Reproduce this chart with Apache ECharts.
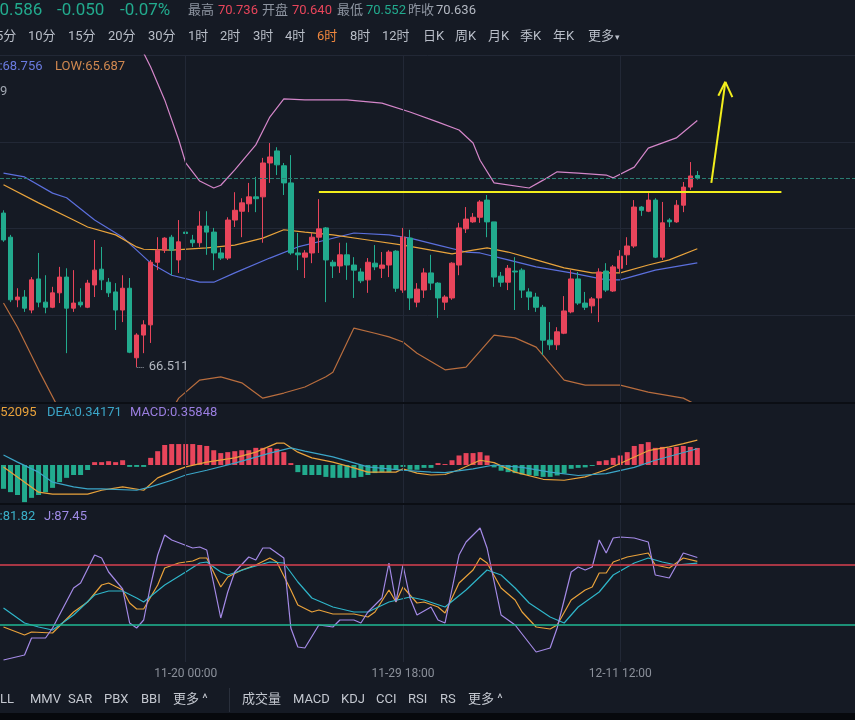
<!DOCTYPE html>
<html>
<head>
<meta charset="utf-8">
<script src="https://cdn.jsdelivr.net/npm/echarts@6/dist/echarts.min.js"></script>
<style>
html,body{margin:0;padding:0;background:#151a24;}
#main{width:855px;height:720px;}
</style>
</head>
<body>
<div id="main"></div>
<script>
// K线 [开, 收, 低, 高]
var candles = [
[69.83,69.25,69.21,69.89],[69.31,67.96,67.91,69.36],[67.96,68.02,67.80,68.21],[68.02,67.78,67.70,68.17],
[67.74,68.39,67.67,68.45],[68.41,67.91,67.80,68.97],[67.91,67.80,67.67,68.49],[67.80,68.11,67.78,68.24],
[68.11,68.45,67.89,68.67],[68.45,67.78,66.81,68.64],[67.78,67.89,67.70,68.60],[67.91,67.85,67.80,68.21],
[67.80,68.32,67.78,68.39],[68.28,68.60,68.02,69.25],[68.62,68.39,68.17,69.10],[68.34,68.11,68.02,68.43],
[68.13,67.74,67.31,68.32],[67.74,68.21,67.48,68.49],[68.21,66.83,66.81,68.43],[66.71,67.20,66.511,67.24],
[67.20,67.42,66.81,67.52],[67.42,68.77,67.03,68.82],[68.77,69.03,68.60,69.31],[69.03,69.29,68.97,69.31],
[69.31,69.03,68.49,69.36],[68.82,69.21,68.54,69.68],[69.42,69.39,68.64,69.57],[69.25,69.19,69.10,69.36],
[69.19,69.55,69.10,69.87],[69.55,69.42,68.93,69.87],[69.42,68.97,68.60,69.51],[68.97,68.86,68.82,69.08],
[68.86,69.68,68.82,69.74],[69.68,69.89,69.53,70.28],[69.87,70.05,69.31,70.15],[70.03,70.18,69.85,70.48],
[70.18,70.14,69.85,70.61],[70.18,70.91,69.19,71.02],[70.91,71.04,70.48,71.34],[71.17,70.87,70.65,71.25],
[70.85,70.48,70.22,70.91],[70.48,68.97,68.93,71.08],[68.97,68.93,68.60,69.40],[68.88,68.97,68.43,69.03],
[68.97,69.31,68.75,69.40],[69.31,69.49,68.97,70.13],[69.51,68.82,67.91,69.53],[68.77,68.69,68.43,68.82],
[68.69,68.93,68.54,69.19],[68.93,68.71,68.39,69.19],[68.71,68.60,68.00,68.88],[68.56,68.37,68.32,68.64],
[68.39,68.77,68.11,68.86],[68.75,68.67,68.60,69.14],[68.64,68.71,68.43,68.99],[68.71,68.99,68.45,69.03],
[69.01,68.21,68.13,69.03],[68.17,69.31,68.11,69.51],[69.29,68.00,67.74,69.47],[67.91,68.19,67.80,68.32],
[68.17,68.54,68.00,68.64],[68.54,68.32,68.17,68.93],[68.32,68.00,67.57,68.34],[67.91,68.02,67.74,68.06],
[68.00,68.75,67.96,68.77],[68.71,69.51,68.49,69.62],[69.49,69.70,69.40,69.96],[69.64,69.74,69.62,69.83],
[69.74,70.07,69.62,70.11],[70.11,69.64,69.31,70.22],[69.64,68.45,68.24,69.64],[68.47,68.34,68.24,68.56],
[68.34,68.64,68.17,68.71],[68.58,68.56,67.74,68.88],[68.60,68.17,68.00,68.64],[68.13,68.02,67.74,68.21],
[68.02,67.80,67.70,68.11],[67.80,67.09,66.77,67.85],[67.09,66.99,66.88,67.48],[66.99,67.27,66.88,67.37],
[67.24,67.72,67.22,68.04],[67.70,68.41,67.67,68.60],[68.41,67.89,67.85,68.56],[67.89,67.80,67.74,68.13],
[67.83,67.98,67.67,68.02],[68.00,68.56,67.48,68.64],[68.58,68.17,68.13,68.75],[68.15,68.67,68.13,68.71],
[68.64,68.90,68.56,69.03],[68.93,69.12,68.71,69.31],[69.12,69.96,69.08,70.11],[69.96,69.89,69.77,69.98],
[69.87,70.11,69.85,70.26],[70.11,68.88,68.86,70.15],[68.88,69.62,68.82,70.07],[69.68,69.64,69.53,69.72],
[69.64,70.00,69.62,70.11],[70.00,70.39,69.85,70.50],[70.39,70.63,70.33,70.93],[70.640,70.586,70.552,70.736]
];

// 布林线 / 均线  [序号, 值]
var bollUp = [[17,74.32],[19,73.67],[20,73.28],[21,72.98],[23,72.27],[25,71.41],[26,70.91],[28,70.52],[30,70.37],[31,70.43],[33,70.76],[36,71.30],[38,71.90],[40,72.29],[43,72.27],[49,72.27],[54,72.20],[58,72.01],[62,71.79],[65,71.62],[67,71.34],[68,70.97],[70,70.48],[75,70.37],[77,70.54],[79,70.72],[82,70.69],[86,70.65],[87,70.59],[90,70.82],[92,71.23],[96,71.45],[99,71.825]];
var bollMid = [[0,70.69],[3,70.61],[7,70.26],[9,70.16],[13,69.68],[17,69.31],[19,69.03],[21,68.75],[24,68.49],[28,68.34],[30,68.34],[33,68.54],[38,68.86],[42,69.10],[46,69.25],[50,69.40],[55,69.36],[58,69.29],[62,69.14],[66,68.99],[68,68.97],[72,68.82],[76,68.67],[81,68.54],[86,68.39],[88,68.39],[93,68.60],[99,68.756]];
var bollLow = [[0,67.89],[2,67.37],[5,66.45],[8,65.58],[12,64.9],[18,64.7],[22,65.2],[24,65.58],[25,65.84],[28,66.23],[31,66.30],[34,66.17],[37,65.84],[40,65.95],[43,66.08],[46,66.30],[47,66.40],[50,67.35],[53,67.24],[55,67.16],[57,67.05],[59,66.81],[63,66.45],[66,66.51],[70,67.20],[73,67.14],[76,66.94],[80,66.23],[83,66.12],[88,66.12],[92,65.97],[97,65.84],[99,65.687]];
var maLine = [[0,70.44],[5,70.05],[10,69.68],[12,69.53],[16,69.36],[19,69.10],[20,69.05],[24,69.03],[29,69.08],[33,69.14],[37,69.29],[40,69.47],[43,69.42],[47,69.36],[52,69.25],[57,69.14],[61,69.03],[64,68.95],[67,69.03],[69,69.08],[72,68.99],[76,68.82],[80,68.65],[84,68.54],[88,68.54],[92,68.71],[95,68.82],[99,69.06]];

// MACD
var macdHist = [-0.50,-0.57,-0.63,-0.78,-0.69,-0.63,-0.57,-0.48,-0.36,-0.27,-0.21,-0.21,-0.105,0.06,0.06,0.08,0.06,0.10,-0.04,-0.04,
-0.04,0.15,0.29,0.42,0.44,0.44,0.44,0.44,0.42,0.40,0.31,0.25,0.27,0.29,0.31,0.31,0.36,0.36,0.36,0.34,
0.27,0.04,-0.15,-0.21,-0.21,-0.21,-0.25,-0.27,-0.27,-0.27,-0.27,-0.25,-0.21,-0.17,-0.15,-0.15,-0.105,-0.04,-0.10,-0.10,
-0.06,-0.06,0.04,0.02,0.10,0.20,0.25,0.25,0.27,0.20,-0.05,-0.12,-0.15,-0.17,-0.20,-0.21,-0.23,-0.25,-0.25,-0.22,
-0.18,-0.08,-0.06,-0.05,-0.02,0.08,0.10,0.15,0.20,0.27,0.40,0.44,0.48,0.36,0.38,0.36,0.38,0.40,0.38,0.35848];
var dif = [[0,-0.04],[5,-0.57],[7,-0.61],[12,-0.61],[14,-0.53],[17,-0.46],[20,-0.53],[22,-0.27],[24,-0.15],[26,-0.04],[29,0.06],[33,0.15],[36,0.27],[39,0.46],[40,0.46],[42,0.27],[44,0.15],[47,0.06],[50,-0.06],[52,-0.15],[56,-0.15],[57,-0.08],[59,-0.17],[61,-0.21],[63,-0.2],[65,-0.1],[68,0.1],[70,0.05],[73,-0.15],[77,-0.3],[80,-0.32],[83,-0.25],[86,-0.1],[89,0.1],[92,0.3],[95,0.38],[97,0.45],[99,0.52095]];
var dea = [[0,0.21],[2,0.06],[5,-0.15],[7,-0.36],[10,-0.46],[12,-0.50],[14,-0.50],[19,-0.53],[21,-0.46],[24,-0.32],[26,-0.21],[29,-0.11],[33,0.04],[38,0.25],[41,0.36],[43,0.29],[47,0.17],[52,-0.04],[57,-0.11],[61,-0.15],[63,-0.16],[67,-0.08],[70,0.0],[74,-0.05],[78,-0.15],[82,-0.22],[86,-0.18],[90,-0.05],[93,0.1],[96,0.22],[99,0.34171]];

// KDJ
var kLine = [[0,18],[3,10],[4,13],[7,12],[10,33],[12,43],[14,60],[15,62],[17,55],[18,42],[19,36],[20,36],[22,60],[23,77],[25,82],[27,84],[28,87],[29,87],[31,58],[32,68],[34,75],[36,80],[38,87],[39,83],[41,55],[42,40],[44,33],[45,35],[47,31],[50,31],[52,28],[53,33],[55,55],[56,43],[57,58],[59,42],[60,43],[62,38],[63,32],[65,62],[67,75],[68,87],[69,82],[71,57],[73,45],[74,33],[76,18],[78,16],[79,20],[81,45],[83,55],[84,58],[85,72],[86,72],[87,83],[89,88],[92,92],[93,80],[95,77],[97,87],[99,83.7]];
var dLine = [[0,37],[3,22],[5,18],[7,15],[10,30],[13,50],[15,54],[17,54],[19,47],[20,43],[23,60],[26,73],[28,82],[29,83],[31,73],[32,70],[35,77],[38,83],[40,82],[42,63],[44,47],[47,38],[50,33],[52,33],[55,43],[58,48],[60,45],[63,38],[66,55],[69,75],[71,70],[73,57],[75,42],[78,28],[80,22],[82,38],[85,53],[87,70],[90,82],[92,87],[94,83],[96,80],[99,81.82]];
var jLine = [[0,-15],[3,-10],[4,7],[6,7],[7,17],[10,57],[11,62],[13,90],[14,87],[15,73],[17,56],[18,22],[19,17],[20,25],[21,60],[22,90],[23,110],[24,105],[27,97],[28,98],[29,95],[31,27],[32,53],[33,73],[35,88],[36,85],[37,97],[38,97],[40,87],[41,17],[42,-2],[43,-3],[45,20],[47,18],[48,25],[50,25],[51,22],[52,33],[54,47],[55,82],[56,43],[57,80],[58,47],[59,30],[61,38],[62,25],[63,22],[65,90],[66,103],[68,117],[69,97],[71,30],[73,20],[76,-7],[78,-3],[79,17],[81,73],[82,78],[83,75],[84,78],[85,105],[86,92],[87,107],[88,108],[90,107],[92,103],[93,70],[95,67],[97,92],[99,87.45]];

// 横轴
var slotCount = 122;
var categories = [];
for (var i = 0; i < slotCount; i++) categories.push(String(i));
var timeLabels = {26: '11-20 00:00', 57: '11-29 18:00', 88: '12-11 12:00'};
var gridIdx = [26, 57, 88];

var RED = '#e8455b', GREEN = '#22ab8e';
var FONT = 'Roboto, "Noto Sans CJK SC", sans-serif';

function txt(x, y, s, color, size, weight) {
    return {type: 'text', x: x, y: y, z: 100, silent: true,
        style: {text: s, fill: color, font: (weight || 'normal') + ' ' + size + 'px ' + FONT,
            textVerticalAlign: 'middle', verticalAlign: 'middle'}};
}
function vLines() {
    return gridIdx.map(function (v) { return {xAxis: v}; });
}

var graphic = [
    // 顶部行情
    txt(-10, 11, '70.586', GREEN, 17), txt(57, 11, '-0.050', GREEN, 17), txt(120, 11, '-0.07%', GREEN, 17),
    txt(188, 11, '最高', '#8e95a1', 13), txt(218, 11, '70.736', RED, 13),
    txt(262, 11, '开盘', '#8e95a1', 13), txt(292, 11, '70.640', RED, 13),
    txt(337, 11, '最低', '#8e95a1', 13), txt(366, 11, '70.552', GREEN, 13),
    txt(408, 11, '昨收', '#8e95a1', 13), txt(436, 11, '70.636', '#b3b8c2', 13),
    // 周期
    txt(-4, 37, '5分', '#b9bec8', 13), txt(28, 37, '10分', '#b9bec8', 13), txt(68, 37, '15分', '#b9bec8', 13),
    txt(108, 37, '20分', '#b9bec8', 13), txt(148, 37, '30分', '#b9bec8', 13), txt(188, 37, '1时', '#b9bec8', 13),
    txt(220, 37, '2时', '#b9bec8', 13), txt(253, 37, '3时', '#b9bec8', 13), txt(285, 37, '4时', '#b9bec8', 13),
    txt(317, 37, '6时', '#f0883e', 13), txt(350, 37, '8时', '#b9bec8', 13), txt(382, 37, '12时', '#b9bec8', 13),
    txt(423, 37, '日K', '#b9bec8', 13), txt(455, 37, '周K', '#b9bec8', 13), txt(488, 37, '月K', '#b9bec8', 13),
    txt(520, 37, '季K', '#b9bec8', 13), txt(553, 37, '年K', '#b9bec8', 13), txt(588, 37, '更多', '#b9bec8', 13),
    txt(615, 38, '▾', '#b9bec8', 9),
    // 指标图例
    txt(-24, 67, 'MID:68.756', '#6a7be0', 13), txt(55, 67, 'LOW:65.687', '#d08850', 13),
    txt(0, 92, '9', '#a0a6b0', 13),
    txt(-33, 413, 'DIF:0.52095', '#e9a23b', 13), txt(47, 413, 'DEA:0.34171', '#3ba5c7', 13),
    txt(130, 413, 'MACD:0.35848', '#9a7ee0', 13),
    txt(-9, 517, 'D:81.82', '#3bb0c9', 13), txt(44, 517, 'J:87.45', '#9f8be6', 13),
    // 底部工具栏
    txt(-17, 700, 'BOLL', '#c3c7cf', 13), txt(30, 700, 'MMV', '#c3c7cf', 13), txt(68, 700, 'SAR', '#c3c7cf', 13),
    txt(104, 700, 'PBX', '#c3c7cf', 13), txt(141, 700, 'BBI', '#c3c7cf', 13), txt(173, 700, '更多 ^', '#c3c7cf', 13),
    txt(242, 700, '成交量', '#c3c7cf', 13), txt(293, 700, 'MACD', '#c3c7cf', 13), txt(341, 700, 'KDJ', '#c3c7cf', 13),
    txt(376, 700, 'CCI', '#c3c7cf', 13), txt(408, 700, 'RSI', '#c3c7cf', 13), txt(440, 700, 'RS', '#c3c7cf', 13),
    txt(468, 700, '更多 ^', '#c3c7cf', 13),
    {type: 'rect', shape: {x: 229, y: 688, width: 1, height: 24}, style: {fill: '#2a303c'}, silent: true},
    {type: 'rect', shape: {x: 0, y: 713, width: 855, height: 7}, style: {fill: '#07090d'}, silent: true},
    // 面板分隔
    {type: 'rect', shape: {x: 0, y: 402, width: 855, height: 2}, style: {fill: '#0b0e14'}, silent: true, z: 50},
    {type: 'rect', shape: {x: 0, y: 503, width: 855, height: 2}, style: {fill: '#0b0e14'}, silent: true, z: 50}
];

function xAxisOf(idx, showLabel) {
    return {
        type: 'category', gridIndex: idx, data: categories, boundaryGap: true,
        axisLine: {show: false}, axisTick: {show: false}, splitLine: {show: false},
        axisLabel: showLabel ? {
            show: true, color: '#8b909a', fontSize: 12, margin: 6, fontFamily: FONT,
            interval: function (i) { return timeLabels[i] !== undefined; },
            formatter: function (v, i) { return timeLabels[i] || ''; }
        } : {show: false}
    };
}

function lineSeries(name, data, color, xi, yi) {
    return {name: name, type: 'line', data: data, xAxisIndex: xi, yAxisIndex: yi, symbol: 'none',
        lineStyle: {color: color, width: 1.2}, silent: true, z: 3};
}

var chart = echarts.init(document.getElementById('main'));
var option = {
    animation: false,
    backgroundColor: '#151a24',
    graphic: graphic,
    grid: [
        {left: -5, width: 860, top: 55, height: 347},
        {left: -5, width: 860, top: 403, height: 101},
        {left: -5, width: 860, top: 505, height: 157}
    ],
    xAxis: [xAxisOf(0, false), xAxisOf(1, false), xAxisOf(2, true)],
    yAxis: [
        {gridIndex: 0, min: 65.757, max: 73.238, show: false},
        {gridIndex: 0, min: 0, max: 4, interval: 1, axisLabel: {show: false}, axisLine: {show: false},
            axisTick: {show: false}, splitLine: {lineStyle: {color: '#222836'}}},
        {gridIndex: 1, min: -0.819, max: 1.302, show: false},
        {gridIndex: 2, min: -17, max: 140, show: false}
    ],
    series: [
        {
            type: 'candlestick', data: candles, xAxisIndex: 0, yAxisIndex: 0, barWidth: 5, z: 4,
            itemStyle: {color: RED, color0: GREEN, borderColor: RED, borderColor0: GREEN, borderWidth: 1},
            markLine: {
                silent: true, symbol: ['none', 'none'], label: {show: false},
                data: vLines().map(function (d) { d.lineStyle = {color: '#222836', type: 'solid', width: 1}; return d; }).concat([
                    {yAxis: 70.586, lineStyle: {color: '#2a7d72', type: 'dashed', width: 1}},
                    [{coord: [45, 70.28], lineStyle: {color: '#f2ee1c', type: 'solid', width: 2}}, {coord: [111, 70.28]}],
                    [{coord: [101, 70.48], lineStyle: {color: '#f2ee1c', type: 'solid', width: 2}}, {coord: [103, 72.66]}],
                    [{coord: [102, 72.36], lineStyle: {color: '#f2ee1c', type: 'solid', width: 2}}, {coord: [103, 72.66]}],
                    [{coord: [104, 72.33], lineStyle: {color: '#f2ee1c', type: 'solid', width: 2}}, {coord: [103, 72.66]}],
                    [{coord: [19, 66.511], lineStyle: {color: '#9aa0aa', type: 'dotted', width: 1}},
                        {coord: [20, 66.511], label: {show: true, position: 'end', formatter: '66.511', color: '#b4b9c2', fontSize: 13, distance: 5, fontFamily: FONT}}]
                ])
            }
        },
        lineSeries('UP', bollUp, '#d486c9', 0, 0),
        lineSeries('MID', bollMid, '#5b6fdc', 0, 0),
        lineSeries('LOW', bollLow, '#b86d3e', 0, 0),
        lineSeries('MA', maLine, '#e8a33c', 0, 0),
        {
            type: 'bar', xAxisIndex: 1, yAxisIndex: 2, barWidth: 5, silent: true,
            data: macdHist.map(function (v) { return {value: v, itemStyle: {color: v >= 0 ? RED : GREEN}}; }),
            markLine: {silent: true, symbol: ['none', 'none'], label: {show: false},
                lineStyle: {color: '#222836', type: 'solid', width: 1}, data: vLines()}
        },
        lineSeries('DIF', dif, '#e9a23b', 1, 2),
        lineSeries('DEA', dea, '#3ba5c7', 1, 2),
        Object.assign(lineSeries('K', kLine, '#e9a23b', 2, 3), {
            markLine: {silent: true, symbol: ['none', 'none'], label: {show: false},
                data: vLines().map(function (d) { d.lineStyle = {color: '#222836', type: 'solid', width: 1}; return d; }).concat([
                    {yAxis: 80, lineStyle: {color: '#d9404f', type: 'solid', width: 1.5}},
                    {yAxis: 20, lineStyle: {color: '#1fb893', type: 'solid', width: 1.5}}
                ])}
        }),
        lineSeries('D', dLine, '#2fb5c9', 2, 3),
        lineSeries('J', jLine, '#a48ae6', 2, 3)
    ]
};
chart.setOption(option);
</script>
</body>
</html>
